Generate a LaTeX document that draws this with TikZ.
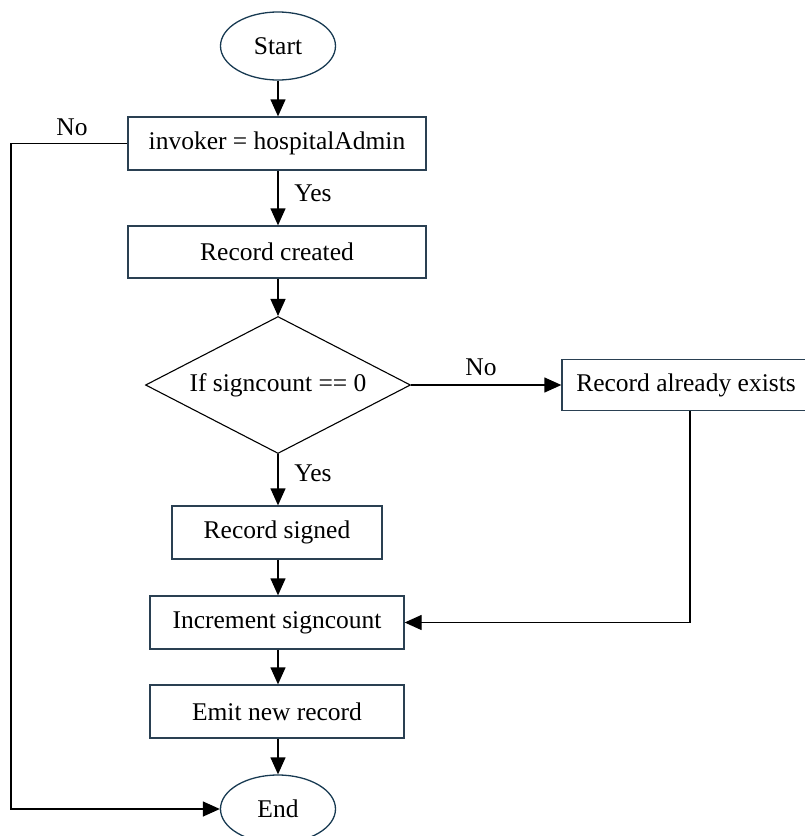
\documentclass[tikz,border=0pt]{standalone}
\usepackage{fontspec}
\setmainfont{Liberation Serif}
\usetikzlibrary{arrows.meta,shapes.geometric,calc}
\definecolor{boxline}{RGB}{42,64,82}
\definecolor{ovalline}{RGB}{24,58,82}
\tikzset{
  every node/.style={font=\fontsize{25.5}{30}\selectfont, inner sep=0pt},
  procbox/.style={draw=boxline, line width=1.3pt, rectangle, minimum height=53pt},
  terminal/.style={draw=ovalline, line width=1.3pt, ellipse, minimum width=115pt, minimum height=68pt},
  decision/.style={draw=black, line width=1.1pt, diamond, aspect=1.93, minimum width=265pt, minimum height=137pt},
  flow/.style={draw=black, line width=1.3pt, -{Triangle[length=17pt,width=15pt]}},
  tag/.style={font=\fontsize{25.5}{30}\selectfont}
}
\begin{document}
\begin{tikzpicture}[x=1pt,y=-1pt]
  \useasboundingbox (0,0) rectangle (805,836);
  \clip (0,0) rectangle (805,836);

  % main column
  \node[terminal] (start) at (278,46) {Start};
  \node[procbox, minimum width=298pt] (inv) at (277,143.5) {invoker = hospitalAdmin};
  \node[procbox, minimum width=298pt, minimum height=52pt] (rc) at (277,252) {Record created};
  \node[decision] (dec) at (278,385) {If signcount == 0};
  \node[procbox, minimum width=248pt, minimum height=51pt] (rae) at (686,385) {Record already exists};
  \node[procbox, minimum width=210pt] (rs) at (277,532.5) {Record signed};
  \node[procbox, minimum width=254pt] (inc) at (277,622.5) {Increment signcount};
  \node[procbox, minimum width=254pt] (emit) at (277,711.5) {Emit new record};
  \node[terminal] (end) at (278,809) {End};

  % branch labels
  \node[tag] (no1) at (72,127) {No};
  \node[tag] (yes1) at (313,193) {Yes};
  \node[tag] (no2) at (481,367) {No};
  \node[tag] (yes2) at (313,473) {Yes};

  % routing points
  \coordinate (leftrail) at (11,143.5);
  \coordinate (rightrail) at (690,622.5);

  % connectors
  \draw[flow] (start.south) -- (start.south |- inv.north);
  \draw[flow] (inv.south -| start.south) -- (rc.north -| start.south);
  \draw[flow] (rc.south -| start.south) -- (dec.north);
  \draw[flow] (dec.east) -- (rae.west);
  \draw[flow] (dec.south) -- (rs.north -| dec.south);
  \draw[flow] (rs.south -| dec.south) -- (inc.north -| dec.south);
  \draw[flow] (inc.south -| dec.south) -- (emit.north -| dec.south);
  \draw[flow] (emit.south -| dec.south) -- (end.north);
  \draw[flow] (rae.south -| rightrail) -- (rightrail) -- (inc.east);
  \draw[flow] (inv.west) -- (leftrail) |- (end.west);
\end{tikzpicture}
\end{document}
